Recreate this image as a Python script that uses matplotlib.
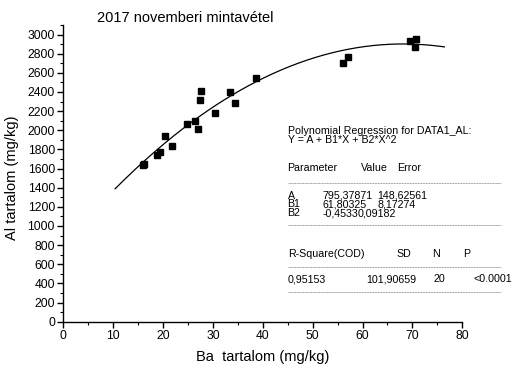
import numpy as np
import matplotlib
matplotlib.use('Agg')
import matplotlib.pyplot as plt
from matplotlib.lines import Line2D
from matplotlib.ticker import MultipleLocator

plt.rcParams['font.family'] = ['Liberation Sans', 'DejaVu Sans']

# measured points (Ba, Al), mg/kg
ba = [15.9, 16.2, 18.7, 19.4, 20.4, 21.8, 24.8, 26.4, 27.1, 27.5,
      27.7, 30.5, 33.5, 34.5, 38.6, 56.0, 57.1, 69.6, 70.8, 70.5]
al = [1637, 1645, 1739, 1773, 1940, 1836, 2066, 2094, 2017, 2320,
      2414, 2184, 2403, 2288, 2550, 2706, 2769, 2930, 2957, 2874]

# polynomial fit from the chart: Y = A + B1*X + B2*X^2
coef = [795.37871, 61.80325, -0.4533]
fit_range = [10.4, 76.4]

W, H = 513, 367
fig = plt.figure(figsize=(W / 100, H / 100), dpi=100)
ax = fig.add_axes([63.3 / W, 1 - 321.7 / H, 399 / W, 296.7 / H])

xf = np.linspace(fit_range[0], fit_range[1], 200)
yf = coef[0] + coef[1] * xf + coef[2] * xf ** 2
ax.plot(xf, yf, color='black', lw=0.9)
ax.plot(ba, al, 's', color='black', ms=4.9, mec='black')

ax.set_xlim(0, 80)
ax.set_ylim(0, 3100)
ax.xaxis.set_major_locator(MultipleLocator(10))
ax.xaxis.set_minor_locator(MultipleLocator(5))
ax.yaxis.set_major_locator(MultipleLocator(200))
ax.yaxis.set_minor_locator(MultipleLocator(100))
ax.set_yticks(range(0, 3001, 200))
ax.spines['top'].set_visible(False)
ax.spines['right'].set_visible(False)
for s in ['left', 'bottom']:
    ax.spines[s].set_linewidth(1.0)
ax.tick_params(which='major', direction='out', length=4, width=1.0, labelsize=8.7, pad=2)
ax.tick_params(which='minor', direction='out', length=2.2, width=0.8)

ax.set_xlabel('Ba  tartalom (mg/kg)', fontsize=10.5)
ax.set_ylabel('Al tartalom (mg/kg)', fontsize=10.5)
ax.xaxis.set_label_coords(0.5, (321.7 - 357) / 296.7)
ax.xaxis.label.set_va('center')
ax.yaxis.set_label_coords((12 - 63.3) / 399, (321.7 - 178) / 296.7)
ax.yaxis.label.set_va('center')

fig.text(185 / W, 1 - 18.3 / H, '2017 novemberi mintavétel', fontsize=10.5,
         ha='center', va='center')


def ptext(px, py, s):
    fig.text(px / W, 1 - py / H, s, fontsize=7.7, ha='left', va='center')


def dash(py):
    fig.add_artist(Line2D([288 / W, 500.5 / W], [1 - py / H, 1 - py / H],
                          transform=fig.transFigure, color='0.45', lw=0.5,
                          linestyle=(0, (1.5, 0.8))))


ptext(287.5, 130.5, 'Polynomial Regression for DATA1_AL:')
ptext(287.5, 140.5, 'Y = A + B1*X + B2*X^2')
ptext(287.5, 168, 'Parameter')
ptext(361, 168, 'Value')
ptext(397.3, 168, 'Error')
dash(182.7)
ptext(287.5, 195.7, 'A')
ptext(322.7, 195.7, '795,37871')
ptext(377.7, 195.7, '148,62561')
ptext(287.5, 204.5, 'B1')
ptext(322.7, 204.5, '61,80325')
ptext(377.7, 204.5, '8,17274')
ptext(287.5, 213.3, 'B2')
ptext(322.7, 213.3, '-0,4533')
ptext(357.5, 213.3, '0,09182')
dash(224.5)
ptext(288, 254.3, 'R-Square(COD)')
ptext(396.7, 254.3, 'SD')
ptext(432.5, 254.3, 'N')
ptext(463.5, 254.3, 'P')
dash(266.7)
ptext(288, 279.3, '0,95153')
ptext(366, 279.3, '101,90659')
ptext(433.5, 279.3, '20')
ptext(474, 279.3, '<0.0001')
dash(291.7)

fig.savefig('out.png', dpi=100)
